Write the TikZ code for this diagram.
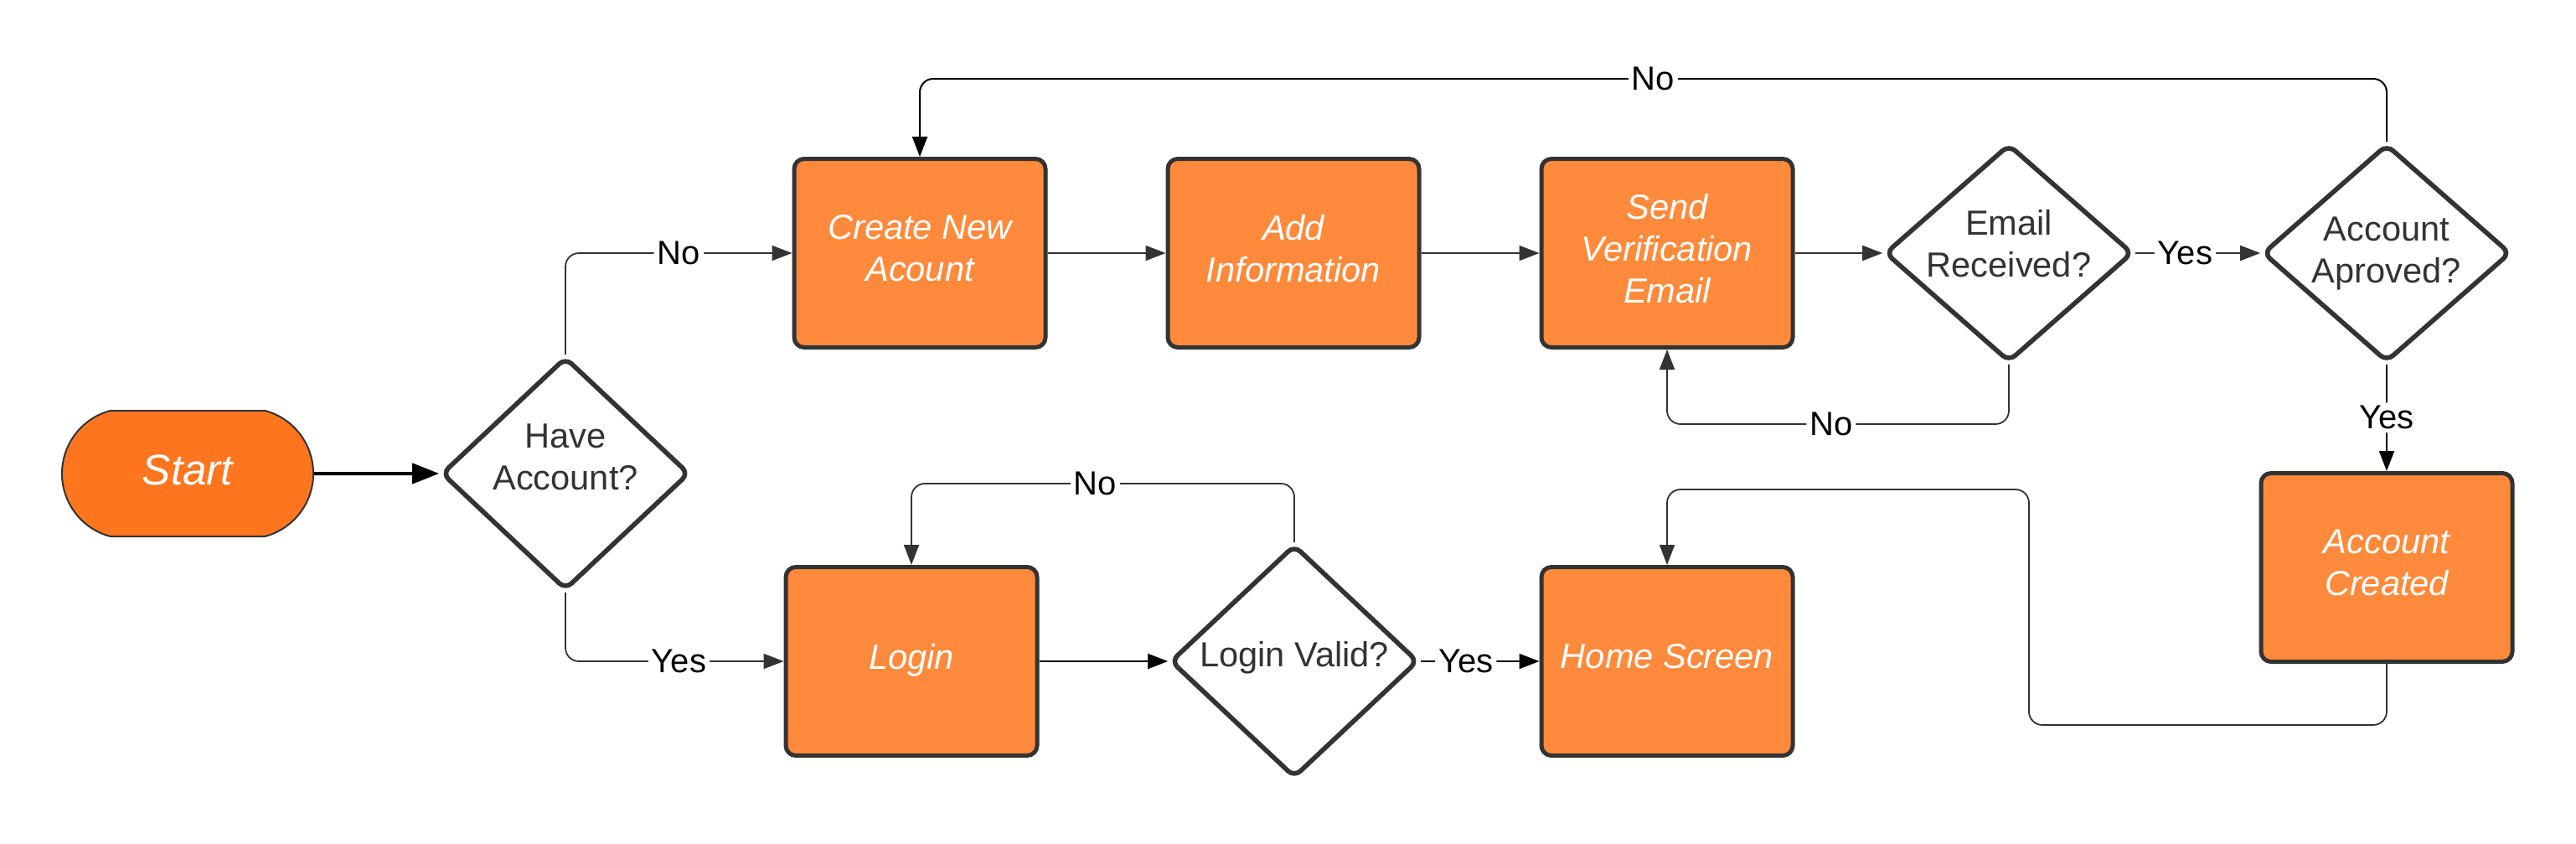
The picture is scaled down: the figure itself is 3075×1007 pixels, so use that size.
\documentclass[tikz,border=0pt]{standalone}
\usepackage{fontspec}
\setmainfont{Liberation Sans}
\usetikzlibrary{shapes.geometric,shapes.misc,arrows.meta}
\definecolor{boxorange}{HTML}{FF8A3B}
\definecolor{startorange}{HTML}{FF761F}
\definecolor{strokegray}{HTML}{333333}
\begin{document}
\begin{tikzpicture}[x=0.25pt,y=-0.25pt,
  font=\fontsize{10.4pt}{12.5pt}\selectfont,
  box/.style={rectangle, rounded corners=3pt, draw=strokegray, line width=1.25pt, fill=boxorange,
    minimum width=75pt, minimum height=56.25pt, text=white, text depth=3pt,
    font=\fontsize{10.4pt}{12.5pt}\selectfont\itshape, align=center, inner sep=0pt},
  startbox/.style={rounded rectangle, rounded rectangle arc length=150, draw=strokegray, line width=0.5pt,
    fill=startorange, minimum width=75pt, minimum height=37.5pt, text=white, text depth=2pt,
    font=\fontsize{12.8pt}{15pt}\selectfont\itshape, inner sep=0pt},
  decision/.style={diamond, rounded corners=2.5pt, draw=strokegray, line width=1.4pt, fill=white,
    inner sep=0pt, minimum width=74pt, minimum height=69.5pt},
  dtext/.style={text=strokegray, align=center, inner sep=0pt,
    font=\fontsize{10.4pt}{12.5pt}\selectfont},
  flow/.style={draw=strokegray, line width=0.45pt, rounded corners=4pt,
    -{Triangle[length=6pt,width=4.5pt]}},
  blackflow/.style={draw=black, line width=0.5pt, rounded corners=4pt,
    -{Triangle[length=6pt,width=4.5pt]}},
  lbl/.style={fill=white, inner sep=1pt, text=black, font=\fontsize{10pt}{12pt}\selectfont},
]
\useasboundingbox (0,0) rectangle (3075,1007);
\fill[white] (0,0) rectangle (3075,1007);

% nodes
\node[startbox] (start) at (224,565) {Start};
\node[decision] (have) at (675,565) {};
\node[dtext] (haveT) at ([yshift=5pt]have.center) {Have\\Account?};
\node[box] (create) at (1098,302) {Create New\\Acount};
\node[box] (add) at (1544,302) {Add\\Information};
\node[box] (send) at (1990,302) {Send\\Verification\\Email};
\node[decision, minimum height=65pt] (emailr) at (2398,302) {};
\node[dtext] (emailrT) at ([yshift=2.75pt]emailr.center) {Email\\Received?};
\node[decision, minimum height=65pt] (aprov) at (2849,302) {};
\node[dtext] (aprovT) at (aprov.center) {Account\\Aproved?};
\node[box] (created) at (2849,677) {Account\\Created};
\node[box] (login) at (1088,789) {Login};
\node[decision] (valid) at (1545,789) {};
\node[dtext] (validT) at ([yshift=1pt]valid.center) {Login Valid?};
\node[box] (home) at (1990,789) {Home Screen};

% bends
\coordinate (erTurn) at (2398,506);
\coordinate (apTurn) at (2849,94);
\coordinate (lvTurn) at (1545,577);
\coordinate (acTurn) at (2849,865);
\coordinate (via) at (2422,584);

% connectors
\draw[draw=black, line width=1pt, -{Triangle[length=8pt,width=6pt]}] (start) -- (have);
\draw[flow] (have.north) |- node[lbl, pos=0.75] {No} (create.west);
\draw[flow] (have.south) |- node[lbl, pos=0.76] {Yes} (login.west);
\draw[flow] (create) -- (add);
\draw[flow] (add) -- (send);
\draw[flow] (send) -- (emailr);
\draw[flow] (emailr) -- node[lbl, pos=0.4] {Yes} (aprov);
\draw[flow] (emailr.south) -- (erTurn) -| node[lbl, pos=0.26] {No} (send.south);
\draw[blackflow] (aprov.north) -- (apTurn) -| node[lbl, pos=0.25] {No} (create.north);
\draw[blackflow] (aprov.south) -- node[lbl] {Yes} (created.north);
\draw[flow] (created.south) -- (acTurn) -| (via) -| (home.north);
\draw[blackflow] (login) -- (valid);
\draw[blackflow] (valid) -- node[lbl, pos=0.38] {Yes} (home);
\draw[flow] (valid.north) -- (lvTurn) -| node[lbl, pos=0.26] {No} (login.north);
\end{tikzpicture}
\end{document}
